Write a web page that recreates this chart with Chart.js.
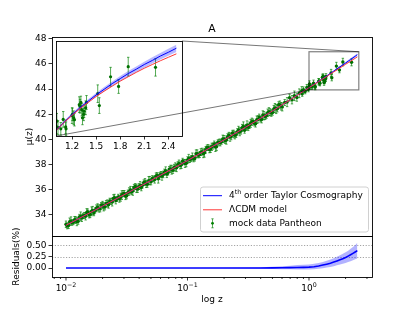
<!DOCTYPE html>
<html>
<head>
<meta charset="utf-8">
<script src="https://cdn.jsdelivr.net/npm/chart.js@4.4.1/dist/chart.umd.min.js"></script>
<style>
  body { margin: 0; background: #fff; }
  #wrap { position: relative; width: 414px; height: 311px; }
  #wrap canvas { position: absolute; left: 0; top: 0; }
</style>
</head>
<body>
<div id="wrap">
  <canvas id="mainChart" width="414" height="311"></canvas>
  <canvas id="resChart" width="414" height="311"></canvas>
  <canvas id="insetChart" width="414" height="311"></canvas>
</div>
<script>
// mock data (z, mu, error)
const zA = [.0100,.0105,.0110,.0115,.0120,.0126,.0132,.0138,.0145,.0151,
  .0158,.0166,.0174,.0182,.0191,.0200,.0209,.0219,.0229,.0240,
  .0251,.0263,.0275,.0288,.0302,.0316,.0331,.0347,.0363,.0380,
  .0398,.0417,.0437,.0457,.0479,.0501,.0525,.0550,.0575,.0603,
  .0631,.0661,.0692,.0724,.0759,.0794,.0832,.0871,.0912,.0955,
  .1000,.1047,.1096,.1148,.1202,.1259,.1318,.1380,.1445,.1514,
  .1585,.1660,.1738,.1820,.1905,.1995,.2089,.2188,.2291,.2399,
  .2512,.2630,.2754,.2884,.3020,.3162,.3311,.3467,.3631,.3802,
  .3981,.4169,.4365,.4571,.4786,.5012,.5248,.5495,.5754,.6026,
  .6310,.6607,.6918,.7244,.7586,.7943,.8318,.8710];
const muA = [33.26,33.16,33.53,33.43,33.60,33.50,33.89,33.92,33.89,34.25,
  34.05,34.35,34.37,34.62,34.48,34.78,34.63,34.91,35.12,35.03,
  35.38,35.27,35.28,35.58,35.71,35.52,35.86,35.84,36.16,36.11,
  36.26,36.18,36.59,36.47,36.73,36.63,36.85,37.07,36.88,37.22,
  37.22,37.52,37.37,37.66,37.54,37.81,38.00,37.93,38.29,38.09,
  38.36,38.40,38.63,38.48,38.87,38.80,39.03,38.94,39.35,39.20,
  39.41,39.64,39.43,39.78,39.81,40.04,39.95,40.33,40.23,40.43,
  40.36,40.75,40.66,41.04,40.96,40.97,41.27,41.42,41.24,41.59,
  41.62,41.94,41.81,42.11,42.17,42.13,42.50,42.44,42.76,42.58,
  42.93,42.96,43.31,43.15,43.46,43.33,43.66,43.87];
const errA = [.26,.23,.32,.2,.27,.24,.35,.21,.29,.23,
  .26,.33,.2,.27,.24,.3,.23,.29,.21,.32,
  .26,.2,.27,.35,.23,.24,.3,.21,.27,.33,
  .23,.26,.2,.29,.32,.24,.21,.27,.35,.23,
  .26,.3,.2,.29,.24,.33,.23,.27,.21,.32,
  .26,.23,.29,.2,.3,.24,.27,.35,.21,.26,
  .29,.23,.32,.24,.2,.27,.33,.23,.26,.3,
  .21,.29,.24,.35,.23,.27,.32,.2,.26,.29,
  .24,.33,.23,.3,.27,.21,.35,.26,.29,.32,
  .24,.36,.27,.33,.38,.3,.35,.32];

const zB = [.01023,.01072,.01122,.01175,.01230,.01288,.01349,.01413,.01479,.01549,
  .01622,.01698,.01778,.01862,.01950,.02042,.02138,.02239,.02344,.02455,
  .02570,.02692,.02818,.02951,.03090,.03236,.03388,.03548,.03715,.03890,
  .04074,.04266,.04467,.04677,.04898,.05129,.05370,.05623,.05888,.06166,
  .06457,.06761,.07079,.07413,.07762,.08128,.08511,.08913,.09333,.09772,
  .1023,.1072,.1122,.1175,.1230,.1288,.1349,.1413,.1479,.1549,
  .1622,.1698,.1778,.1862,.1950,.2042,.2138,.2239,.2344,.2455,
  .2570,.2692,.2818,.2951,.3090,.3236,.3388,.3548,.3715,.3890,
  .4074,.4266,.4467,.4677,.4898,.5129,.5370,.5623,.5888];
const muB = [33.13,33.47,33.39,33.62,33.47,33.85,33.75,33.96,34.20,34.00,
  34.29,34.15,34.54,34.52,34.79,34.65,34.91,34.81,35.06,35.31,
  35.14,35.43,35.41,35.69,35.49,35.78,35.98,35.91,36.26,36.05,
  36.35,36.35,36.62,36.44,36.73,36.89,36.82,37.16,37.10,37.08,
  37.40,37.24,37.64,37.59,37.79,37.74,38.10,37.98,38.19,38.10,
  38.48,38.48,38.46,38.87,38.74,38.99,38.87,39.17,39.36,39.25,
  39.47,39.39,39.77,39.75,40.04,39.90,40.19,40.18,40.51,40.33,
  40.61,40.61,40.92,40.72,41.12,41.12,41.40,41.28,41.56,41.77,
  41.58,41.88,41.90,42.20,42.09,42.41,42.41,42.75,42.63];
const errB = [.23,.29,.21,.26,.32,.2,.27,.24,.3,.23,
  .35,.21,.26,.29,.2,.33,.24,.27,.23,.3,
  .26,.21,.32,.24,.27,.2,.29,.35,.23,.26,
  .3,.21,.27,.24,.33,.23,.29,.2,.26,.32,
  .24,.27,.21,.35,.23,.3,.26,.29,.2,.27,
  .33,.23,.24,.3,.21,.27,.32,.26,.23,.29,
  .24,.35,.2,.27,.3,.23,.26,.33,.21,.29,
  .24,.32,.27,.23,.35,.26,.29,.21,.3,.24,
  .27,.33,.23,.32,.26,.29,.36,.24,.3];

// high redshift points (the ones in the inset)
const zC = [0.88,0.90,0.93,0.96,0.99,1.005,1.01,1.025,1.06,1.09,
  1.12,1.125,1.20,1.205,1.22,1.23,1.29,1.30,1.31,1.32,
  1.33,1.345,1.35,1.37,1.38,1.52,1.54,1.68,1.78,1.90,2.24];
const muC = [43.62,43.95,43.80,44.12,43.98,44.23,44.40,44.20,44.16,44.46,
  44.22,44.16,44.58,44.62,44.51,44.45,44.93,44.88,45.00,44.77,
  44.51,44.62,44.72,44.83,45.00,45.28,44.90,45.82,45.51,46.14,46.12];
const errC = [.2,.22,.18,.24,.2,.22,.25,.22,.2,.25,
  .22,.22,.25,.2,.22,.2,.25,.22,.2,.2,
  .22,.2,.2,.22,.22,.28,.25,.3,.22,.3,.28];

// model curves
const zModel = [0.01,0.02,0.05,0.1,0.2,0.3,0.4,0.5,0.6,0.7,0.8,0.9,1.0,1.1,1.2,1.3,1.4,1.5,1.6,1.7,1.8,1.9,2.0,2.1,2.2,2.3,2.4,2.5];
const muLCDM = [33.18,34.70,36.74,38.32,39.96,40.96,41.68,42.26,42.74,43.15,43.50,43.82,44.10,44.36,44.59,44.81,45.00,45.19,45.36,45.52,45.68,45.82,45.96,46.09,46.21,46.33,46.44,46.55];
const muTaylor = [33.18,34.70,36.74,38.32,39.96,40.96,41.68,42.26,42.74,43.15,43.51,43.83,44.11,44.37,44.61,44.83,45.04,45.24,45.42,45.60,45.76,45.92,46.06,46.21,46.34,46.48,46.60,46.73];
const muTaylorLo = [33.18,34.70,36.74,38.32,39.96,40.96,41.67,42.25,42.73,43.14,43.49,43.80,44.08,44.33,44.56,44.78,44.98,45.17,45.35,45.52,45.68,45.83,45.97,46.11,46.24,46.37,46.49,46.61];
const muTaylorHi = [33.18,34.70,36.74,38.32,39.96,40.96,41.69,42.27,42.76,43.17,43.53,43.86,44.14,44.41,44.66,44.89,45.10,45.30,45.49,45.67,45.84,46.00,46.15,46.30,46.44,46.58,46.71,46.84];
const resMid = [0,0,0,0,0,0.001,0.002,0.004,0.006,0.009,0.012,0.016,0.02,0.03,0.045,0.065,0.085,0.105,0.13,0.155,0.18,0.205,0.23,0.26,0.29,0.32,0.35,0.38];
const resLo = [0,0,0,-0.002,-0.005,-0.01,-0.015,-0.02,-0.025,-0.028,-0.03,-0.03,-0.03,-0.025,-0.015,-0.005,0.01,0.025,0.04,0.06,0.08,0.095,0.11,0.13,0.15,0.17,0.19,0.21];
const resHi = [0,0,0,0.002,0.006,0.012,0.02,0.03,0.04,0.05,0.065,0.072,0.08,0.095,0.11,0.135,0.16,0.185,0.215,0.245,0.28,0.31,0.345,0.38,0.42,0.46,0.5,0.55];

// axes
const zMin = 0.00767, zMax = 3.30;
const muMin = 32.33, muMax = 48.13;
const resMin = -0.195, resMax = 0.70;
const insetX = [1.0, 2.57], insetY = [43.93, 46.96];
const muTicks = [34, 36, 38, 40, 42, 44, 46, 48];
const resTicks = [0, 0.25, 0.5];
const resDotted = [0.25, 0.5];
const insetTicks = [1.2, 1.5, 1.8, 2.1, 2.4];
const logMajor = [0.01, 0.1, 1];
const logMajorExp = ['\u22122', '\u22121', '0'];
const logMinor = [0.008,0.009,0.02,0.03,0.04,0.05,0.06,0.07,0.08,0.09,0.2,0.3,0.4,0.5,0.6,0.7,0.8,0.9,2,3];

const FONT = '"DejaVu Sans", sans-serif';
const RED = 'rgb(255,55,55)';
Chart.defaults.font.family = FONT;
Chart.defaults.font.size = 9;
Chart.defaults.color = '#000';

const pairs = (xs, ys) => xs.map((x, i) => ({x: x, y: ys[i]}));
const sn = v => Math.round(v) + 0.5;

function frame(ctx, a, color) {
  ctx.save();
  ctx.strokeStyle = color || '#000';
  ctx.lineWidth = 0.9;
  ctx.strokeRect(sn(a.left), sn(a.top), Math.round(a.right) - Math.round(a.left), Math.round(a.bottom) - Math.round(a.top));
  ctx.restore();
}

const errorBars = {
  id: 'errorBars',
  beforeDatasetsDraw(chart) {
    const {ctx, chartArea: a, scales: {x, y}} = chart;
    ctx.save();
    ctx.beginPath();
    ctx.rect(a.left, a.top, a.right - a.left, a.bottom - a.top);
    ctx.clip();
    ctx.strokeStyle = 'rgba(0,128,0,0.75)';
    ctx.lineWidth = 0.9;
    chart.data.datasets.forEach(ds => {
      if (!ds.errs) return;
      ds.data.forEach((p, i) => {
        const px = x.getPixelForValue(p.x);
        const t = y.getPixelForValue(p.y + ds.errs[i]);
        const b = y.getPixelForValue(p.y - ds.errs[i]);
        ctx.beginPath();
        ctx.moveTo(px, t); ctx.lineTo(px, b);
        ctx.moveTo(px - 1.2, t); ctx.lineTo(px + 1.2, t);
        ctx.moveTo(px - 1.2, b); ctx.lineTo(px + 1.2, b);
        ctx.stroke();
      });
    });
    ctx.restore();
  }
};

const mainDecor = {
  id: 'mainDecor',
  afterDraw(chart) {
    const {ctx, chartArea: a} = chart;
    frame(ctx, a);
    ctx.save();
    // title
    ctx.font = '10.8px ' + FONT;
    ctx.fillStyle = '#000';
    ctx.textAlign = 'center';
    ctx.textBaseline = 'alphabetic';
    ctx.fillText('A', (a.left + a.right) / 2, 32);
    // legend
    const L = 200, T = 186.5, R = 368, B = 231.5;
    ctx.beginPath();
    ctx.roundRect(L + 0.5, T + 0.5, R - L, B - T, 2.5);
    ctx.fillStyle = 'rgba(255,255,255,0.8)';
    ctx.fill();
    ctx.strokeStyle = '#d0d0d0';
    ctx.lineWidth = 1;
    ctx.stroke();
    const rows = [195.7, 209.8, 223.3];
    ctx.lineWidth = 1;
    ctx.strokeStyle = '#0000ff';
    ctx.beginPath(); ctx.moveTo(203, rows[0]); ctx.lineTo(222, rows[0]); ctx.stroke();
    ctx.strokeStyle = RED;
    ctx.beginPath(); ctx.moveTo(203, rows[1]); ctx.lineTo(222, rows[1]); ctx.stroke();
    ctx.strokeStyle = 'rgba(0,128,0,0.8)';
    ctx.lineWidth = 0.8;
    ctx.beginPath();
    ctx.moveTo(212.5, rows[2] - 4.5); ctx.lineTo(212.5, rows[2] + 4.5);
    ctx.moveTo(211.3, rows[2] - 4.5); ctx.lineTo(213.7, rows[2] - 4.5);
    ctx.moveTo(211.3, rows[2] + 4.5); ctx.lineTo(213.7, rows[2] + 4.5);
    ctx.stroke();
    ctx.fillStyle = '#008000';
    ctx.beginPath(); ctx.arc(212.5, rows[2], 1.4, 0, Math.PI * 2); ctx.fill();
    ctx.fillStyle = '#000';
    ctx.textAlign = 'left';
    ctx.textBaseline = 'middle';
    let tx = 229;
    ctx.font = '9px ' + FONT;
    ctx.fillText('4', tx, rows[0]);
    tx += ctx.measureText('4').width;
    ctx.font = '6.3px ' + FONT;
    ctx.fillText('th', tx, rows[0] - 3);
    tx += ctx.measureText('th').width;
    ctx.font = '9px ' + FONT;
    ctx.fillText(' order Taylor Cosmography', tx, rows[0]);
    ctx.fillText('\u039BCDM model', 229, rows[1]);
    ctx.fillText('mock data Pantheon', 229, rows[2]);
    ctx.restore();
  }
};

const resDecor = {
  id: 'resDecor',
  beforeDatasetsDraw(chart) {
    const {ctx, chartArea: a, scales: {y}} = chart;
    ctx.save();
    ctx.strokeStyle = 'rgba(0,0,0,0.45)';
    ctx.lineWidth = 0.8;
    ctx.setLineDash([1.2, 1.6]);
    resDotted.forEach(v => {
      const py = sn(y.getPixelForValue(v));
      ctx.beginPath(); ctx.moveTo(a.left, py); ctx.lineTo(a.right, py); ctx.stroke();
    });
    ctx.restore();
  },
  afterDraw(chart) {
    const {ctx, chartArea: a, scales: {x}} = chart;
    frame(ctx, a);
    ctx.save();
    ctx.strokeStyle = '#000';
    ctx.lineWidth = 0.8;
    const b = Math.round(a.bottom);
    logMinor.forEach(v => {
      const px = x.getPixelForValue(v);
      if (px < a.left || px > a.right) return;
      ctx.beginPath(); ctx.moveTo(px, b); ctx.lineTo(px, b + 2); ctx.stroke();
    });
    ctx.fillStyle = '#000';
    ctx.textBaseline = 'alphabetic';
    ctx.textAlign = 'left';
    logMajor.forEach((v, i) => {
      const px = x.getPixelForValue(v);
      ctx.beginPath(); ctx.moveTo(px, b); ctx.lineTo(px, b + 3.5); ctx.stroke();
      ctx.font = '9px ' + FONT;
      const w1 = ctx.measureText('10').width;
      ctx.font = '6.3px ' + FONT;
      const w2 = ctx.measureText(logMajorExp[i]).width;
      const x0 = px - (w1 + w2) / 2;
      ctx.font = '9px ' + FONT;
      ctx.fillText('10', x0, 291);
      ctx.font = '6.3px ' + FONT;
      ctx.fillText(logMajorExp[i], x0 + w1, 287);
    });
    ctx.restore();
  }
};

let mainChart;
const insetDecor = {
  id: 'insetDecor',
  beforeDraw(chart) {
    const {ctx, chartArea: a} = chart;
    ctx.save();
    ctx.fillStyle = '#fff';
    ctx.fillRect(a.left, a.top, a.right - a.left, a.bottom - a.top);
    ctx.restore();
  },
  afterDraw(chart) {
    const {ctx, chartArea: a} = chart;
    frame(ctx, a);
    const mx = mainChart.scales.x, my = mainChart.scales.y;
    const x1 = mx.getPixelForValue(insetX[0]), x2 = mx.getPixelForValue(insetX[1]);
    const y1 = my.getPixelForValue(insetY[1]), y2 = my.getPixelForValue(insetY[0]);
    ctx.save();
    ctx.strokeStyle = 'rgba(0,0,0,0.5)';
    ctx.lineWidth = 1.2;
    ctx.strokeRect(x1, y1, x2 - x1, y2 - y1);
    ctx.strokeStyle = 'rgba(0,0,0,0.6)';
    ctx.lineWidth = 0.9;
    ctx.beginPath();
    ctx.moveTo(a.right, a.top); ctx.lineTo(x2, y1);
    ctx.moveTo(a.left, a.bottom); ctx.lineTo(x1, y2);
    ctx.stroke();
    ctx.restore();
  }
};

function dataSets(ptRadius, clip) {
  return [
    { data: pairs(zA.concat(zB, zC), muA.concat(muB, muC)), errs: errA.concat(errB, errC),
      showLine: false, pointRadius: ptRadius, pointBackgroundColor: '#007000', pointBorderWidth: 0, order: 5, clip: clip },
    { data: pairs(zModel, muTaylorHi), borderWidth: 0, pointRadius: 0, fill: '+1',
      backgroundColor: 'rgba(0,0,255,0.28)', order: 4, clip: clip },
    { data: pairs(zModel, muTaylorLo), borderWidth: 0, pointRadius: 0, fill: false, order: 4, clip: clip },
    { data: pairs(zModel, muTaylor), borderColor: '#0000ff', borderWidth: 1, pointRadius: 0, fill: false, order: 2, clip: clip },
    { data: pairs(zModel, muLCDM), borderColor: RED, borderWidth: 1, pointRadius: 0, fill: false, order: 1, clip: clip }
  ];
}

const base = {
  animation: false,
  responsive: false,
  devicePixelRatio: 1,
  events: [],
  plugins: { legend: { display: false }, tooltip: { enabled: false } }
};

mainChart = new Chart(document.getElementById('mainChart'), {
  type: 'line',
  data: { datasets: dataSets(1.7) },
  options: Object.assign({}, base, {
    layout: { padding: { left: 0, top: 37, right: 42, bottom: 75 } },
    scales: {
      x: { type: 'logarithmic', min: zMin, max: zMax, display: false },
      y: {
        min: muMin, max: muMax,
        afterBuildTicks: s => { s.ticks = muTicks.map(v => ({value: v})); },
        afterFit: s => { s.width = 52; },
        ticks: { padding: 2, callback: v => String(v) },
        grid: { drawOnChartArea: false, drawTicks: true, tickLength: 3.5, tickColor: '#000', tickWidth: 0.8 },
        border: { display: false },
        title: { display: true, text: '\u03BC(z)', padding: { top: 24, bottom: 0 } }
      }
    }
  }),
  plugins: [errorBars, mainDecor]
});

new Chart(document.getElementById('resChart'), {
  type: 'line',
  data: { datasets: [
    { data: pairs(zModel, resHi), borderWidth: 0, pointRadius: 0, fill: '+1', backgroundColor: 'rgba(0,0,255,0.3)', order: 3 },
    { data: pairs(zModel, resLo), borderWidth: 0, pointRadius: 0, fill: false, order: 3 },
    { data: pairs(zModel, resMid), borderColor: '#0000ff', borderWidth: 1.6, pointRadius: 0, fill: false, order: 1 }
  ]},
  options: Object.assign({}, base, {
    layout: { padding: { left: 0, top: 236, right: 42, bottom: 0 } },
    scales: {
      x: {
        type: 'logarithmic', min: zMin, max: zMax,
        ticks: { display: false }, grid: { display: false }, border: { display: false },
        afterFit: s => { s.height = 34; },
        title: { display: true, text: 'log z', padding: { top: 0, bottom: 5.6 } }
      },
      y: {
        min: resMin, max: resMax,
        afterBuildTicks: s => { s.ticks = resTicks.map(v => ({value: v})); },
        afterFit: s => { s.width = 52; },
        ticks: { padding: 2, callback: v => v.toFixed(2) },
        grid: { drawOnChartArea: false, drawTicks: true, tickLength: 3.5, tickColor: '#000', tickWidth: 0.8 },
        border: { display: false },
        title: { display: true, text: 'Residuals(%)', padding: { top: 11, bottom: 0 } }
      }
    }
  }),
  plugins: [resDecor]
});

new Chart(document.getElementById('insetChart'), {
  type: 'line',
  data: { datasets: dataSets(1.6, 0) },
  options: Object.assign({}, base, {
    layout: { padding: { left: 56, top: 41, right: 232, bottom: 155 } },
    scales: {
      x: {
        type: 'linear', min: insetX[0], max: insetX[1],
        afterBuildTicks: s => { s.ticks = insetTicks.map(v => ({value: v})); },
        afterFit: s => { s.height = 20; },
        ticks: { padding: 2, autoSkip: false, maxRotation: 0, callback: v => v.toFixed(1) },
        grid: { drawOnChartArea: false, drawTicks: true, tickLength: 3.5, tickColor: '#000', tickWidth: 0.8 },
        border: { display: false }
      },
      y: { display: false, min: insetY[0], max: insetY[1] }
    }
  }),
  plugins: [errorBars, insetDecor]
});
</script>
</body>
</html>
